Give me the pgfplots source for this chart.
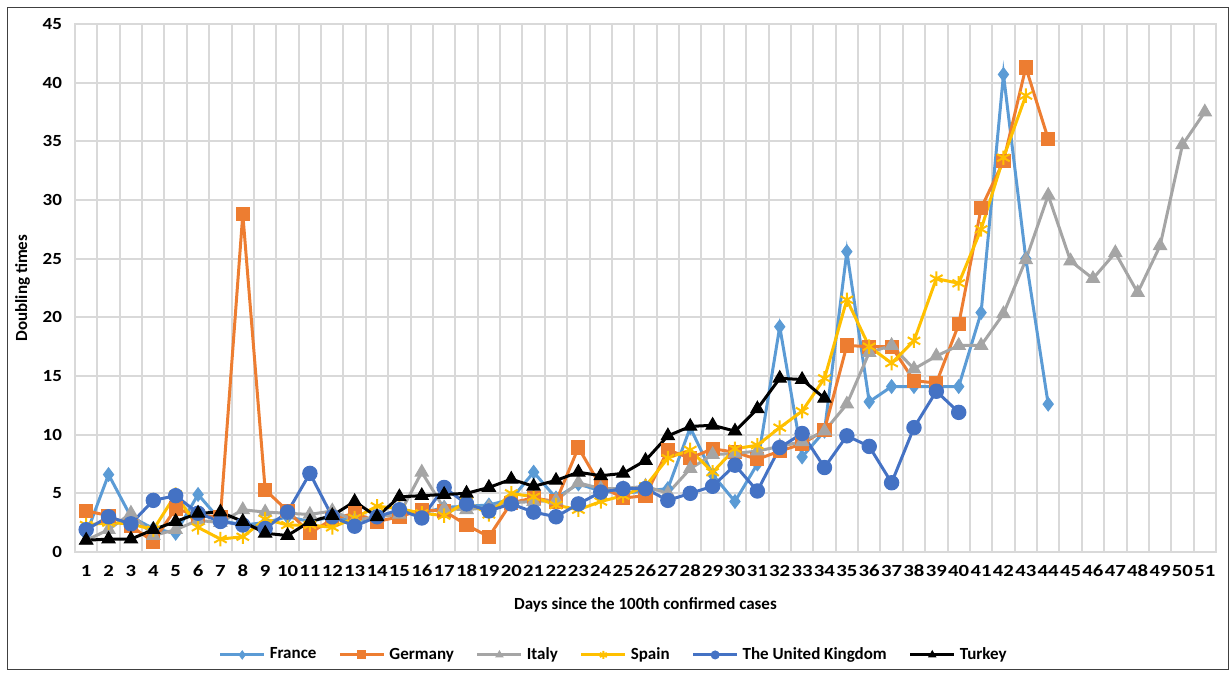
\documentclass[border=0pt]{standalone}
\usepackage{fontspec}
\setmainfont{Carlito}
\usepackage{graphicx}
\usepackage{pgfplots}
\pgfplotsset{compat=1.18}
\definecolor{cFr}{HTML}{5B9BD5}
\definecolor{cDe}{HTML}{ED7D31}
\definecolor{cIt}{HTML}{A5A5A5}
\definecolor{cEs}{HTML}{FFC000}
\definecolor{cUk}{HTML}{4472C4}
\definecolor{cTr}{HTML}{000000}
\definecolor{gridc}{HTML}{D9D9D9}
\begin{document}
\begin{tikzpicture}[x=1pt,y=1pt]
\path[use as bounding box] (0,0) rectangle (616,336.5);
\draw[line width=0.7pt, black!75] (3.8,1.6) rectangle (614.2,332.8);
\begin{axis}[
  at={(37.5pt,60.5pt)}, anchor=south west,
  scale only axis, width=570.5pt, height=264pt,
  xmin=0.5, xmax=51.5, ymin=0, ymax=45,
  xtick={1,...,51}, ytick={0,5,...,45},
  minor xtick={0.5,1.5,...,51.5},
  xmajorgrids=false, xminorgrids=true, ymajorgrids=true,
  grid style={draw=gridc, line width=1pt},
  minor grid style={draw=gridc, line width=1pt},
  major tick length=0pt, minor tick length=0pt,
  axis line style={draw=gridc, line width=1pt},
  /pgf/number format/assume math mode=true,
  ticklabel style={font=\fontsize{8.5}{10}\selectfont\bfseries},
  xticklabel={\scalebox{1.22}[1]{\pgfmathprintnumber{\tick}}},
  yticklabel={\scalebox{1.12}[1]{\pgfmathprintnumber{\tick}}},
  xticklabel style={yshift=-3pt},
  yticklabel style={xshift=-3pt},
  xlabel={Days since the 100th confirmed cases},
  ylabel={Doubling times},
  xlabel style={font=\fontsize{8.5}{10}\selectfont\bfseries, at={(axis description cs:0.5,-0.1)}, anchor=center},
  ylabel style={font=\fontsize{8.5}{10}\selectfont\bfseries, at={(axis description cs:-0.046,0.5)}, anchor=center},
  legend style={at={(0.473,-0.195)}, anchor=center, draw=none, fill=none,
    legend columns=6, font=\fontsize{8.5}{10}\selectfont\bfseries,
    /tikz/every even column/.append style={column sep=9pt}},
  legend image code/.code={\draw[mark repeat=2,mark phase=2,mark size=2pt] plot coordinates {(0pt,0pt) (11pt,0pt) (22pt,0pt)};},
  every axis plot/.append style={line width=1.5pt},
]
\addplot[color=cFr, mark=diamond*, mark size=3.4pt, mark options={solid, fill=cFr, draw=cFr, line width=0.5pt}] coordinates {
(1,1.5)(2,6.6)(3,3.0)(4,2.0)(5,1.6)(6,4.9)(7,2.7)(8,2.3)(9,2.5)(10,3.0)(11,2.6)(12,3.0)(13,2.6)(14,3.0)(15,3.3)(16,3.3)(17,3.8)(18,3.9)(19,4.0)(20,4.5)(21,6.8)(22,4.6)(23,5.8)(24,5.2)(25,5.0)(26,5.2)(27,5.4)(28,10.6)(29,6.6)(30,4.3)(31,7.5)(32,19.2)(33,8.1)(34,10.3)(35,25.6)(36,12.8)(37,14.1)(38,14.1)(39,14.1)(40,14.1)(41,20.4)(42,40.7)(43,25.0)(44,12.6)};
\addlegendentry{France}
\addplot[color=cDe, mark=square*, mark size=3.3pt, mark options={solid, fill=cDe, draw=cDe, line width=0.5pt}] coordinates {
(1,3.5)(2,3.1)(3,2.2)(4,0.9)(5,3.7)(6,3.1)(7,3.0)(8,28.8)(9,5.3)(10,3.5)(11,1.6)(12,2.8)(13,3.3)(14,2.6)(15,3.0)(16,3.6)(17,3.5)(18,2.3)(19,1.3)(20,4.2)(21,4.6)(22,4.3)(23,8.9)(24,5.6)(25,4.6)(26,4.8)(27,8.7)(28,8.0)(29,8.8)(30,8.5)(31,7.9)(32,8.6)(33,9.2)(34,10.4)(35,17.6)(36,17.5)(37,17.5)(38,14.6)(39,14.4)(40,19.4)(41,29.3)(42,33.3)(43,41.3)(44,35.2)};
\addlegendentry{Germany}
\addplot[color=cIt, mark=triangle*, mark size=3.8pt, mark options={solid, fill=cIt, draw=cIt, line width=0.5pt}] coordinates {
(1,1.0)(2,1.9)(3,3.3)(4,1.4)(5,1.9)(6,2.7)(7,2.5)(8,3.6)(9,3.4)(10,3.3)(11,3.2)(12,3.5)(13,2.7)(14,3.0)(15,3.2)(16,6.8)(17,3.7)(18,3.6)(19,3.8)(20,4.2)(21,4.3)(22,4.4)(23,5.9)(24,5.4)(25,5.4)(26,5.6)(27,5.0)(28,7.1)(29,8.3)(30,8.4)(31,8.6)(32,9.0)(33,9.4)(34,10.3)(35,12.6)(36,17.0)(37,17.6)(38,15.6)(39,16.7)(40,17.6)(41,17.6)(42,20.3)(43,24.9)(44,30.4)(45,24.8)(46,23.3)(47,25.5)(48,22.1)(49,26.1)(50,34.7)(51,37.5)};
\addlegendentry{Italy}
\addplot[color=cEs, mark=asterisk, mark size=3.6pt, mark options={solid, draw=cEs, line width=1pt}] coordinates {
(1,2.3)(2,2.5)(3,2.4)(4,1.9)(5,4.9)(6,2.1)(7,1.1)(8,1.3)(9,2.8)(10,2.3)(11,2.3)(12,2.1)(13,2.9)(14,3.9)(15,3.7)(16,3.3)(17,3.1)(18,4.3)(19,3.2)(20,5.0)(21,4.7)(22,4.0)(23,3.6)(24,4.3)(25,4.8)(26,5.6)(27,8.0)(28,8.7)(29,6.8)(30,8.8)(31,9.1)(32,10.6)(33,12.0)(34,14.8)(35,21.5)(36,17.5)(37,16.1)(38,18.0)(39,23.3)(40,22.9)(41,27.5)(42,33.6)(43,38.9)};
\addlegendentry{Spain}
\addplot[color=cUk, mark=*, mark size=3.6pt, mark options={solid, fill=cUk, draw=cUk, line width=0.5pt}] coordinates {
(1,1.9)(2,3.0)(3,2.4)(4,4.4)(5,4.8)(6,3.3)(7,2.6)(8,2.3)(9,2.0)(10,3.4)(11,6.7)(12,3.0)(13,2.2)(14,3.0)(15,3.6)(16,2.9)(17,5.5)(18,4.1)(19,3.5)(20,4.1)(21,3.4)(22,3.0)(23,4.1)(24,5.1)(25,5.4)(26,5.4)(27,4.4)(28,5.0)(29,5.6)(30,7.4)(31,5.2)(32,8.9)(33,10.1)(34,7.2)(35,9.9)(36,9.0)(37,5.9)(38,10.6)(39,13.7)(40,11.9)};
\addlegendentry{The United Kingdom}
\addplot[color=cTr, mark=triangle*, mark size=3.8pt, mark options={solid, fill=cTr, draw=cTr, line width=0.5pt}] coordinates {
(1,1.0)(2,1.1)(3,1.1)(4,1.9)(5,2.6)(6,3.3)(7,3.4)(8,2.6)(9,1.6)(10,1.4)(11,2.6)(12,3.1)(13,4.3)(14,3.0)(15,4.7)(16,4.8)(17,4.9)(18,5.0)(19,5.5)(20,6.2)(21,5.6)(22,6.1)(23,6.8)(24,6.5)(25,6.7)(26,7.8)(27,9.9)(28,10.7)(29,10.8)(30,10.3)(31,12.2)(32,14.8)(33,14.7)(34,13.1)};
\addlegendentry{Turkey}
\end{axis}
\end{tikzpicture}
\end{document}
